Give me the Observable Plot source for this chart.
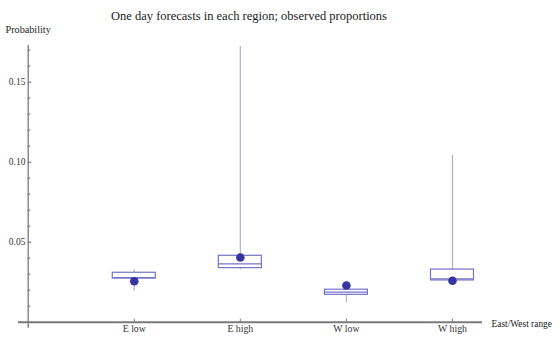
<!DOCTYPE html>
<html>
<head>
<meta charset="utf-8">
<script src="https://cdn.jsdelivr.net/npm/d3@7"></script>
<script src="https://cdn.jsdelivr.net/npm/@observablehq/plot@0.6"></script>
<style>
  html, body { margin: 0; padding: 0; background: #fff; }
  svg { display: block; }
</style>
</head>
<body>
<div id="chart"></div>
<script>
const categories = ["E low", "E high", "W low", "W high"];
const positions = [1, 2, 3, 4];
const whiskerLow = [0.0194, 0.0328, 0.0121, 0.0261];
const q1 = [0.0273, 0.0338, 0.0171, 0.0261];
const median = [0.0278, 0.0365, 0.0188, 0.0271];
const q3 = [0.0309, 0.0415, 0.0203, 0.0329];
const whiskerHigh = [0.0328, 0.1723, 0.0203, 0.1042];
const observed = [0.0256, 0.0404, 0.0229, 0.0259];
const majorTicks = [0.05, 0.10, 0.15];
const minorTicks = [0.01, 0.02, 0.03, 0.04, 0.06, 0.07, 0.08, 0.09, 0.11, 0.12, 0.13, 0.14, 0.16, 0.17];
const title = "One day forecasts in each region; observed proportions";
const yLabel = "Probability";
const xLabel = "East/West range";

const rows = categories.map((c, i) => ({
  cat: c, pos: positions[i], lo: whiskerLow[i], q1: q1[i], med: median[i],
  q3: q3[i], hi: whiskerHigh[i], obs: observed[i]
}));

const font = "'Liberation Serif', 'DejaVu Serif', serif";
const boxColor = "#7474c8";
const whiskerColor = "#b0b0d4";
const dotColor = "#38349f";
const axisColor = "#7a7a7a";
const half = 21.5;

const chart = Plot.plot({
  width: 560,
  height: 339,
  marginTop: 45,
  marginBottom: 17.3,
  marginLeft: 18,
  marginRight: 78,
  style: { fontFamily: font, background: "#fff", overflow: "visible" },
  x: { type: "linear", domain: [-0.0914, 4.283], axis: null },
  y: { type: "linear", domain: [0, 0.1729], axis: null },
  marks: [
    // whiskers
    Plot.ruleX(rows, { x: "pos", y1: "lo", y2: "hi", stroke: whiskerColor, strokeWidth: 1.2 }),
    // boxes
    Plot.rect(rows, { x1: "pos", x2: "pos", y1: "q1", y2: "q3", fill: "#fff", stroke: boxColor, strokeWidth: 1.2, insetLeft: -half, insetRight: -half }),
    // medians
    Plot.ruleY(rows, { y: "med", x1: "pos", x2: "pos", stroke: boxColor, strokeWidth: 1.2, insetLeft: -half, insetRight: -half }),
    // observed proportions
    Plot.dot(rows, { x: "pos", y: "obs", r: 4.3, fill: dotColor, stroke: "none" }),
    // axis lines
    Plot.ruleY([0], { stroke: axisColor, strokeWidth: 2 }),
    Plot.ruleX([0], { stroke: axisColor, strokeWidth: 1.3, insetBottom: -6 }),
    // y ticks
    Plot.axisY(minorTicks, { x: 0, anchor: "left", tickSize: -2.6, tickFormat: () => "", stroke: axisColor, strokeWidth: 1.2, label: null }),
    Plot.axisY(majorTicks, { x: 0, anchor: "left", tickSize: -3.6, tickPadding: 6.3, tickFormat: d3.format(".2f"), stroke: axisColor, strokeWidth: 1.2, fontSize: 9.5, fontFamily: font, fill: "#333", label: null }),
    // x ticks
    Plot.axisX(positions, { anchor: "bottom", tickSize: -3, tickPadding: 6, tickFormat: (d) => categories[d - 1], stroke: axisColor, fontSize: 9.8, fontFamily: font, fill: "#333", label: null }),
    // labels
    Plot.text([title], { frameAnchor: "top", lineAnchor: "middle", dx: -1.5, dy: -30, fontSize: 12.5, fontFamily: font, fill: "#222", text: (d) => d }),
    Plot.text([yLabel], { frameAnchor: "top-left", lineAnchor: "middle", textAnchor: "start", dx: -13, dy: -16, fontSize: 10.2, fontFamily: font, fill: "#222", text: (d) => d }),
    Plot.text([xLabel], { frameAnchor: "bottom-right", lineAnchor: "middle", textAnchor: "start", dx: 9, dy: 1.5, fontSize: 9.4, fontFamily: font, fill: "#222", text: (d) => d })
  ]
});
document.getElementById("chart").appendChild(chart);
</script>
</body>
</html>
